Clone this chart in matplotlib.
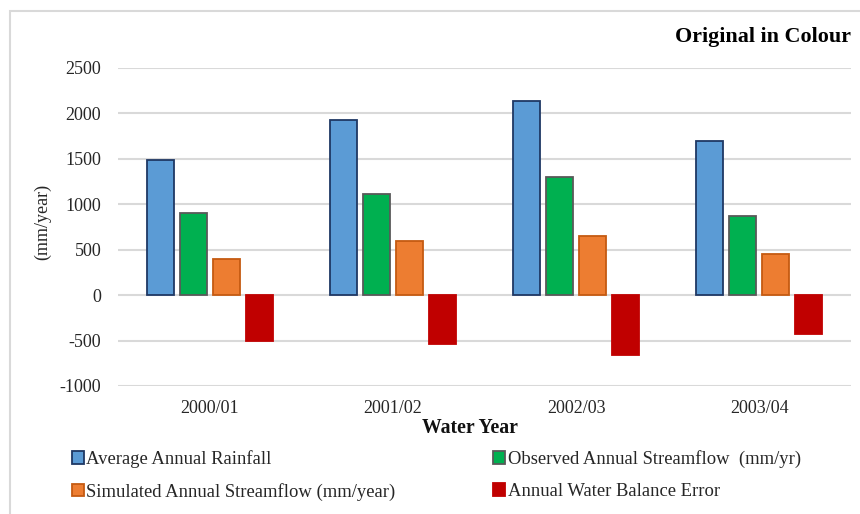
import matplotlib
matplotlib.use("Agg")
import matplotlib.pyplot as plt
import numpy as np
from matplotlib.patches import Rectangle, Patch

years = ["2000/01", "2001/02", "2002/03", "2003/04"]
rainfall = [1490, 1930, 2140, 1700]
observed = [900, 1115, 1300, 870]
simulated = [400, 600, 650, 455]
wb_error = [-510, -540, -660, -425]
series_names = ["Average Annual Rainfall", "Observed Annual Streamflow  (mm/yr)",
                "Simulated Annual Streamflow (mm/year)", "Annual Water Balance Error"]
yticks = [-1000, -500, 0, 500, 1000, 1500, 2000, 2500]

plt.rcParams['font.family'] = ['Liberation Serif', 'DejaVu Serif']

W, H = 860, 514
fig = plt.figure(figsize=(W/100, H/100), dpi=100)
ax = fig.add_axes([118/W, 1-386/H, (851-118)/W, (386-68)/H])

fills = ["#5B9BD5", "#00B050", "#ED7D31", "#C00000"]
edges = ["#1F3864", "#595959", "#C55A11", "#C00000"]
data = [rainfall, observed, simulated, wb_error]
x = np.arange(len(years))
pitch = 0.18
width = 0.147
for i, (vals, fc, ec) in enumerate(zip(data, fills, edges)):
    ax.bar(x + (i - 1.5) * pitch, vals, width, color=fc, edgecolor=ec,
           linewidth=1.3, zorder=3, label=series_names[i])

ax.set_xlim(-0.5, 3.5)
ax.set_ylim(-1000, 2500)
ax.set_yticks(yticks)
ax.set_yticklabels([str(v) for v in yticks])
ax.set_xticks(x)
ax.set_xticklabels(years)
ax.tick_params(axis='both', length=0, labelsize=13, colors='#262626')
ax.tick_params(axis='y', pad=12)
ax.tick_params(axis='x', pad=10)
ax.grid(axis='y', color='#D9D9D9', linewidth=1.5, zorder=0)
for s in ax.spines.values():
    s.set_visible(False)

fig.text(43/W, 1-222/H, "(mm/year)", rotation=90, ha='center', va='center',
         fontsize=13, color='#262626')
fig.text(470/W, 1-428/H, "Water Year", ha='center', va='center',
         fontsize=14.2, fontweight='bold', color='#111111')
fig.text(851/W, 1-37/H, "Original in Colour", ha='right', va='center',
         fontsize=15.8, fontweight='bold', color='#000000')

handles = [Patch(facecolor=fills[i], edgecolor=edges[i], linewidth=1.3) for i in range(4)]
order = [0, 2, 1, 3]
leg = fig.legend([handles[i] for i in order], [series_names[i] for i in order],
                 ncol=2, loc='upper left', bbox_to_anchor=(72/W, 1-450/H),
                 frameon=False, fontsize=13.4, handlelength=0.65, handleheight=0.65,
                 handletextpad=0.12, columnspacing=5.25, labelspacing=0.8,
                 borderaxespad=0, borderpad=0)
for t in leg.get_texts():
    t.set_color('#262626')

fig.patches.append(Rectangle((10/W, -0.05), 1.1, 1-11/H + 0.05, transform=fig.transFigure,
                             fill=False, edgecolor='#D9D9D9', linewidth=1.5))

fig.savefig("out.png", dpi=100)
